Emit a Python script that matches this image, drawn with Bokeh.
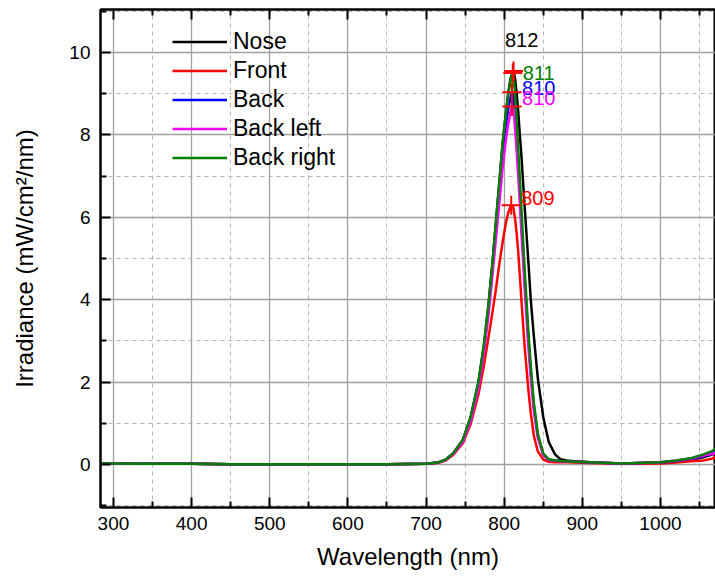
from bokeh.plotting import figure
from bokeh.models import (Range1d, LinearAxis, Legend, LegendItem, FixedTicker,
                          CustomJSTickFormatter)
from bokeh.embed import file_html
from bokeh.resources import INLINE
from bokeh.core.properties import value

# ---- data ----
wavelength = [283, 350, 400, 450, 500, 550, 600, 650, 700, 715, 725, 735, 747, 757, 767,
              774, 780, 785, 789, 794, 798, 802, 805, 808, 810, 811, 812, 814, 816, 818,
              820, 822, 826, 831, 834, 838, 843, 850, 857, 865, 872, 880, 890, 910, 950,
              1000, 1020, 1040, 1055, 1065, 1070]

nose = [0.03, 0.02, 0.02, 0.01, 0.01, 0.01, 0.01, 0.01, 0.02, 0.05, 0.12, 0.28, 0.6, 1.15, 2.0,
        2.9, 3.9, 4.9, 5.8, 6.9, 7.8, 8.5, 9.0, 9.35, 9.48, 9.53, 9.55, 9.35, 9.0, 8.55,
        8.0, 7.5, 6.3, 4.9, 4.0, 3.1, 2.1, 1.15, 0.55, 0.25, 0.13, 0.1, 0.08, 0.06, 0.03,
        0.05, 0.08, 0.12, 0.18, 0.24, 0.28]
front = [0.03, 0.02, 0.02, 0.01, 0.01, 0.01, 0.01, 0.01, 0.02, 0.04, 0.1, 0.24, 0.52, 0.98, 1.7,
         2.4, 3.1, 3.7, 4.2, 4.9, 5.4, 5.85, 6.1, 6.25, 6.28, 6.29, 6.2, 5.95, 5.6, 5.15,
         4.6, 4.0, 2.9, 1.8, 1.25, 0.7, 0.32, 0.12, 0.07, 0.06, 0.06, 0.06, 0.05, 0.04, 0.02,
         0.03, 0.05, 0.08, 0.1, 0.14, 0.18]
back = [0.03, 0.02, 0.02, 0.01, 0.01, 0.01, 0.01, 0.01, 0.02, 0.05, 0.12, 0.27, 0.58, 1.1, 1.95,
        2.8, 3.8, 4.8, 5.65, 6.7, 7.5, 8.2, 8.6, 8.9, 9.03, 9.0, 8.9, 8.45, 7.9, 7.25,
        6.6, 5.9, 4.55, 3.0, 2.25, 1.4, 0.7, 0.25, 0.12, 0.1, 0.09, 0.08, 0.07, 0.06, 0.03,
        0.05, 0.09, 0.14, 0.2, 0.27, 0.3]
back_left = [0.03, 0.02, 0.02, 0.01, 0.01, 0.01, 0.01, 0.01, 0.02, 0.05, 0.11, 0.26, 0.55, 1.05, 1.85,
             2.7, 3.65, 4.6, 5.4, 6.4, 7.2, 7.85, 8.25, 8.55, 8.67, 8.69, 8.6, 8.15, 7.6, 7.0,
             6.35, 5.65, 4.35, 2.85, 2.1, 1.3, 0.65, 0.23, 0.11, 0.09, 0.08, 0.08, 0.07, 0.06, 0.03,
             0.06, 0.1, 0.15, 0.22, 0.26, 0.28]
back_right = [0.03, 0.02, 0.02, 0.01, 0.01, 0.01, 0.01, 0.01, 0.02, 0.05, 0.12, 0.28, 0.6, 1.15, 2.0,
              2.9, 3.9, 4.9, 5.8, 6.9, 7.8, 8.5, 8.95, 9.3, 9.45, 9.5, 9.45, 8.95, 8.35, 7.65,
              6.95, 6.2, 4.8, 3.2, 2.4, 1.5, 0.75, 0.27, 0.13, 0.1, 0.09, 0.08, 0.07, 0.06, 0.03,
              0.06, 0.1, 0.16, 0.25, 0.32, 0.38]

series_names = ["Nose", "Front", "Back", "Back left", "Back right"]
series_colors = ["#000000", "#ff0000", "#0000ff", "#ff00ff", "#008000"]
series_values = [nose, front, back, back_left, back_right]

peak_x = [812, 809, 810, 810, 811]
peak_y = [9.55, 6.29, 9.03, 8.69, 9.5]
peak_labels = ["812", "809", "810", "810", "811"]

x_ticks = [300, 400, 500, 600, 700, 800, 900, 1000]
x_minor = [350, 450, 550, 650, 750, 850, 950, 1050]
y_ticks = [0, 2, 4, 6, 8, 10]
y_minor = [-1, 1, 3, 5, 7, 9, 11]

x_title = "Wavelength (nm)"
y_title = "Irradiance (mW/cm\u00b2/nm)"

# ---- styling ----
FONT = "Liberation Sans"
label_dx = [8, 10, 10, 10, 10]          # px offsets of peak labels
label_dy = [-31, -7, -4, -8, 0]
label_align = ["center", "left", "left", "left", "left"]

p = figure(width=715, height=578, output_backend="svg", toolbar_location=None,
           x_range=Range1d(283.4, 1070.4), y_range=Range1d(-1.04, 11.04),
           min_border_left=100, min_border_right=0, min_border_top=9, min_border_bottom=71)
p.background_fill_color = "white"
p.border_fill_color = "white"
p.outline_line_color = "black"
p.outline_line_width = 2

for ax in (p.xaxis[0], p.yaxis[0]):
    ax.axis_line_width = 2
    ax.axis_line_color = "black"
    ax.major_tick_in = 10
    ax.major_tick_out = 0
    ax.minor_tick_in = 6
    ax.minor_tick_out = 0
    ax.major_tick_line_width = 2
    ax.minor_tick_line_width = 2
    ax.major_label_text_font = FONT
    ax.major_label_text_font_size = "19px"
    ax.major_label_text_color = "black"
    ax.axis_label_text_font = FONT
    ax.axis_label_text_font_size = "24px"
    ax.axis_label_text_font_style = "normal"
    ax.axis_label_text_color = "black"

p.xaxis[0].ticker = FixedTicker(ticks=x_ticks, minor_ticks=x_minor)
p.yaxis[0].ticker = FixedTicker(ticks=y_ticks, minor_ticks=y_minor)
p.xaxis.axis_label = x_title
p.yaxis.axis_label = y_title
p.xaxis.major_label_standoff = 9
p.yaxis.major_label_standoff = 10
p.xaxis.axis_label_standoff = 10
p.yaxis.axis_label_standoff = 28

top = LinearAxis(ticker=FixedTicker(ticks=x_ticks, minor_ticks=x_minor),
                 formatter=CustomJSTickFormatter(code="return ''"),
                 major_tick_in=10, major_tick_out=0, minor_tick_in=6, minor_tick_out=0,
                 major_tick_line_width=2, minor_tick_line_width=2, axis_line_width=2,
                 major_label_standoff=0)
p.add_layout(top, "above")

# grids
p.xgrid[0].ticker = FixedTicker(ticks=x_ticks, minor_ticks=x_minor)
p.ygrid[0].ticker = FixedTicker(ticks=y_ticks, minor_ticks=y_minor)
p.grid.grid_line_color = "#a0a0a0"
p.grid.grid_line_width = 1.3
p.xgrid.minor_grid_line_color = "#b4b4b4"
p.ygrid.minor_grid_line_color = "#b4b4b4"
p.xgrid.minor_grid_line_dash = "4 4"
p.ygrid.minor_grid_line_dash = "4 4"

items = []
for name, color, vals in zip(series_names, series_colors, series_values):
    r = p.line(wavelength, vals, line_color=color, line_width=2.5)
    items.append(LegendItem(label=name, renderers=[r]))

legend = Legend(items=items, location=(72, 335), padding=0, margin=0, spacing=0,
                glyph_width=55, glyph_height=29, label_height=29, label_standoff=6,
                label_text_font=FONT, label_text_font_size="23px", label_text_color="black",
                border_line_color=None, background_fill_alpha=0)
p.add_layout(legend)

p.scatter(peak_x, peak_y, marker="cross", size=19, line_color="#ff0000", line_width=2)

for i in range(len(peak_x)):
    p.text([peak_x[i]], [peak_y[i]], text=[peak_labels[i]], text_color=series_colors[i],
           text_font=value(FONT), text_font_size="20px", text_align=label_align[i],
           text_baseline="middle", x_offset=label_dx[i], y_offset=label_dy[i])

open("out.html", "w").write(file_html(p, INLINE))
